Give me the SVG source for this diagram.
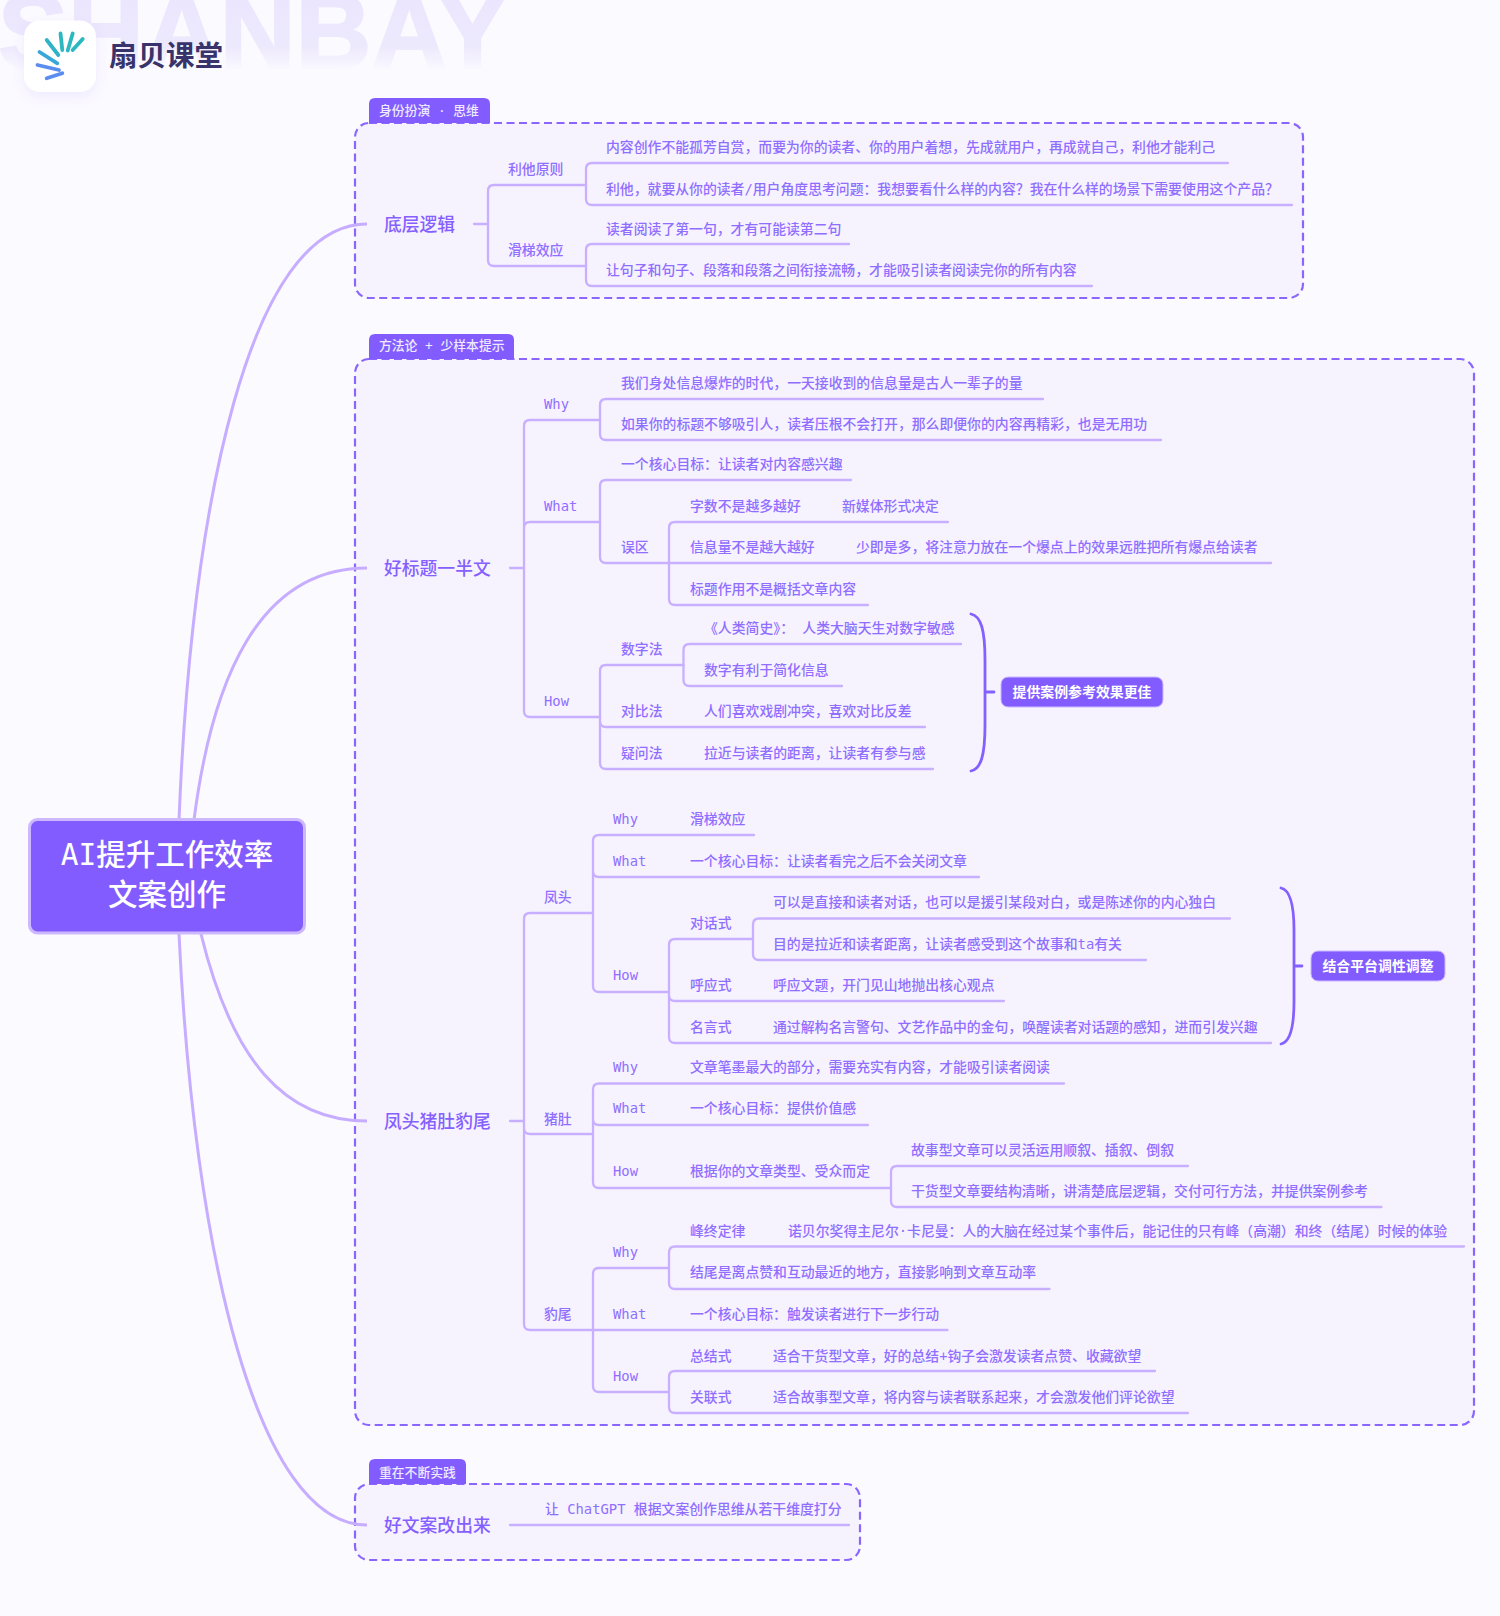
<svg xmlns="http://www.w3.org/2000/svg" width="1500" height="1616" viewBox="0 0 1500 1616">
<style>
text{font-family:"DejaVu Sans Mono","Noto Sans CJK SC",monospace}
.t{font-size:13.85px;font-weight:500;fill:#906eff}
.p{font-size:17.8px;font-weight:500;fill:#8560ff}
.g{font-size:12.8px;font-weight:500;fill:#efeaff}
.n{font-size:13.9px;font-weight:700;fill:#fff;text-anchor:middle}
.l{fill:none;stroke:#c9afff;stroke-width:2.3;stroke-linecap:round}
.b{fill:none;stroke:#8461ff;stroke-width:2.8;stroke-linecap:round}
.c{fill:none;stroke:#c7adff;stroke-width:3}
.box{fill:#f6f3ff;stroke:#8a66ff;stroke-width:2.2;stroke-dasharray:8 4.5}
.tag{fill:#825cff}
.sum{fill:#825cff;stroke:#cdb8ff;stroke-width:1}
.r{fill:none;stroke-width:3.8;stroke-linecap:round}
</style>
<defs>
<linearGradient id="wm" gradientUnits="userSpaceOnUse" x1="0" y1="0" x2="0" y2="72"><stop offset="0" stop-color="#ebe6fd"/><stop offset=".65" stop-color="#ede9fd"/><stop offset="1" stop-color="#fbfaff"/></linearGradient>
<filter id="sh" x="-30%" y="-30%" width="160%" height="160%"><feDropShadow dx="0" dy="5" stdDeviation="6" flood-color="#8560ff" flood-opacity=".1"/></filter>
</defs>
<rect width="1500" height="1616" fill="#fbfaff"/>
<g id="brand">
<text x="-2" y="68" font-size="105" font-weight="700" style="font-family:'Liberation Sans',sans-serif" fill="url(#wm)" stroke="url(#wm)" stroke-width="2">SHANBAY</text>
<rect x="24" y="20.500" width="72" height="71.500" rx="16" fill="#fff" filter="url(#sh)"/>
<path class="r" stroke="#2bb8c0" d="M60.500 33.500L62.300 50M72.700 33.500L67.700 50.500M82.700 39L72.700 50"/>
<path class="r" stroke="#2fb3c8" d="M46.700 40L58.300 55"/>
<path class="r" stroke="#3ba7d8" d="M39.500 52L57.300 63.300"/>
<path class="r" stroke="#5b8cf0" d="M37.500 65L59 70M46.700 78.300L62.300 73.300"/>
<text x="109" y="66" font-size="28.500" font-weight="700" fill="#38336b">扇贝课堂</text>
</g>
<g id="frames">
<rect class="box" x="355" y="123" width="948" height="175" rx="14"/>
<path class="tag" d="M369 123V104Q369 98 375 98H484Q490 98 490 104V123Z"/>
<rect class="box" x="355" y="359" width="1119" height="1066" rx="14"/>
<path class="tag" d="M369 359V340Q369 334 375 334H508Q514 334 514 340V359Z"/>
<rect class="box" x="355" y="1484" width="505" height="76" rx="14"/>
<path class="tag" d="M369 1484V1465Q369 1459 375 1459H460Q466 1459 466 1465V1484Z"/>
</g>
<g id="connectors">
<path class="c" d="M179 820C192 500 250 224 367 224"/>
<path class="c" d="M194 820C212 680 258 568 367 568"/>
<path class="c" d="M201 934C232 1060 284 1121 367 1121"/>
<path class="c" d="M179 934C194 1250 256 1525 367 1525"/>
<path class="l" d="M474 224H488M586 185H494Q488 185 488 191V260Q488 266 494 266H586"/>
<path class="l" d="M1228 163H592Q586 163 586 169V199Q586 205 592 205H1292"/>
<path class="l" d="M849 244H592Q586 244 586 250V280Q586 286 592 286H1092"/>
<path class="l" d="M510 568H524M600 420H530Q524 420 524 426V711Q524 717 530 717H600M524 528Q524 522 530 522H600"/>
<path class="l" d="M1043 399H606Q600 399 600 405V434Q600 440 606 440H1161"/>
<path class="l" d="M851 480H606Q600 480 600 486V557Q600 563 606 563H1271"/>
<path class="l" d="M948 522H675Q669 522 669 528V599Q669 605 675 605H868"/>
<path class="l" d="M683.500 665H606Q600 665 600 671V763Q600 769 606 769H933M600 721Q600 727 606 727H925"/>
<path class="l" d="M961 644H689.500Q683.500 644 683.500 650V680Q683.500 686 689.500 686H842"/>
<path class="b" d="M971 614C981 616 985 630 985 660V725C985 755 981 769 971 771M985 692H994"/>
<path class="l" d="M510 1121H524M593 913H530Q524 913 524 919V1324Q524 1330 530 1330H947.500M524 1128Q524 1134 530 1134H593"/>
<path class="l" d="M754 835H599Q593 835 593 841V986Q593 992 599 992H669M593 871Q593 877 599 877H979"/>
<path class="l" d="M753 939H675Q669 939 669 945V1037Q669 1043 675 1043H1271M669 995Q669 1001 675 1001H1004"/>
<path class="l" d="M1230 918.500H759Q753 918.500 753 924.500V954Q753 960 759 960H1146"/>
<path class="b" d="M1281 888C1290 890 1294 904 1294 930V1002C1294 1028 1290 1042 1281 1044M1294 966H1302"/>
<path class="l" d="M1064 1083.500H599Q593 1083.500 593 1089.500V1182Q593 1188 599 1188H891M593 1119Q593 1125 599 1125H868"/>
<path class="l" d="M1188 1166H897Q891 1166 891 1172V1201Q891 1207 897 1207H1381.500"/>
<path class="l" d="M669 1268H599Q593 1268 593 1274V1386Q593 1392 599 1392H669"/>
<path class="l" d="M1464 1246.500H675Q669 1246.500 669 1252.500V1283Q669 1289 675 1289H1049.500"/>
<path class="l" d="M1155 1371H675Q669 1371 669 1377V1407Q669 1413 675 1413H1188"/>
<path class="l" d="M510 1525H849"/>
</g>
<g id="root">
<rect x="29.500" y="819.500" width="275" height="113.500" rx="8" fill="#825cff" stroke="#cdb8ff" stroke-width="3"/>
<text x="167" y="865" font-size="29.500" font-weight="500" fill="#fff" text-anchor="middle">AI提升工作效率</text>
<text x="167" y="905" font-size="29.500" font-weight="500" fill="#fff" text-anchor="middle">文案创作</text>
</g>
<g id="tag1"><text class="g" x="379" y="115">身份扮演 · 思维</text></g>
<g id="tag2"><text class="g" x="379" y="350">方法论 + 少样本提示</text></g>
<g id="tag3"><text class="g" x="379" y="1477">重在不断实践</text></g>
<g id="topic1"><text class="p" x="384" y="231">底层逻辑</text></g>
<g id="topic2"><text class="p" x="384" y="575">好标题一半文</text></g>
<g id="topic3"><text class="p" x="384" y="1128">凤头猪肚豹尾</text></g>
<g id="topic4"><text class="p" x="384" y="1531.500">好文案改出来</text></g>
<g id="logic">
<text class="t" x="508" y="173.500">利他原则</text>
<text class="t" x="606" y="152">内容创作不能孤芳自赏，而要为你的读者、你的用户着想，先成就用户，再成就自己，利他才能利己</text>
<text class="t" x="606" y="194">利他，就要从你的读者/用户角度思考问题：我想要看什么样的内容？我在什么样的场景下需要使用这个产品？</text>
<text class="t" x="508" y="255">滑梯效应</text>
<text class="t" x="606" y="233.500">读者阅读了第一句，才有可能读第二句</text>
<text class="t" x="606" y="275">让句子和句子、段落和段落之间衔接流畅，才能吸引读者阅读完你的所有内容</text>
</g>
<g id="title">
<text class="t" x="544" y="409">Why</text>
<text class="t" x="621" y="387.500">我们身处信息爆炸的时代，一天接收到的信息量是古人一辈子的量</text>
<text class="t" x="621" y="429">如果你的标题不够吸引人，读者压根不会打开，那么即便你的内容再精彩，也是无用功</text>
<text class="t" x="544" y="511">What</text>
<text class="t" x="621" y="469">一个核心目标：让读者对内容感兴趣</text>
<text class="t" x="621" y="551.500">误区</text>
<text class="t" x="690" y="510.500">字数不是越多越好</text>
<text class="t" x="842" y="510.500">新媒体形式决定</text>
<text class="t" x="690" y="551.500">信息量不是越大越好</text>
<text class="t" x="856" y="551.500">少即是多，将注意力放在一个爆点上的效果远胜把所有爆点给读者</text>
<text class="t" x="690" y="593.500">标题作用不是概括文章内容</text>
<text class="t" x="544" y="706">How</text>
<text class="t" x="621" y="654">数字法</text>
<text class="t" x="704" y="633">《人类简史》： 人类大脑天生对数字敏感</text>
<text class="t" x="704" y="674.500">数字有利于简化信息</text>
<text class="t" x="621" y="715.500">对比法</text>
<text class="t" x="704" y="715.500">人们喜欢戏剧冲突，喜欢对比反差</text>
<text class="t" x="621" y="757.500">疑问法</text>
<text class="t" x="704" y="757.500">拉近与读者的距离，让读者有参与感</text>
</g>
<g id="summary1"><rect class="sum" x="1001" y="677" width="162" height="30" rx="7"/><text class="n" x="1082" y="697">提供案例参考效果更佳</text></g>
<g id="head">
<text class="t" x="544" y="902">凤头</text>
<text class="t" x="613" y="824">Why</text>
<text class="t" x="690" y="824">滑梯效应</text>
<text class="t" x="613" y="866">What</text>
<text class="t" x="690" y="866">一个核心目标：让读者看完之后不会关闭文章</text>
<text class="t" x="613" y="980">How</text>
<text class="t" x="690" y="928">对话式</text>
<text class="t" x="773" y="907">可以是直接和读者对话，也可以是援引某段对白，或是陈述你的内心独白</text>
<text class="t" x="773" y="949">目的是拉近和读者距离，让读者感受到这个故事和ta有关</text>
<text class="t" x="690" y="989.500">呼应式</text>
<text class="t" x="773" y="989.500">呼应文题，开门见山地抛出核心观点</text>
<text class="t" x="690" y="1032">名言式</text>
<text class="t" x="773" y="1032">通过解构名言警句、文艺作品中的金句，唤醒读者对话题的感知，进而引发兴趣</text>
</g>
<g id="summary2"><rect class="sum" x="1311" y="951" width="134" height="30" rx="7"/><text class="n" x="1378" y="971">结合平台调性调整</text></g>
<g id="belly">
<text class="t" x="544" y="1123.500">猪肚</text>
<text class="t" x="613" y="1071.500">Why</text>
<text class="t" x="690" y="1071.500">文章笔墨最大的部分，需要充实有内容，才能吸引读者阅读</text>
<text class="t" x="613" y="1113">What</text>
<text class="t" x="690" y="1113">一个核心目标：提供价值感</text>
<text class="t" x="613" y="1176">How</text>
<text class="t" x="690" y="1176">根据你的文章类型、受众而定</text>
<text class="t" x="911" y="1154.500">故事型文章可以灵活运用顺叙、插叙、倒叙</text>
<text class="t" x="911" y="1196">干货型文章要结构清晰，讲清楚底层逻辑，交付可行方法，并提供案例参考</text>
</g>
<g id="tail">
<text class="t" x="544" y="1319">豹尾</text>
<text class="t" x="613" y="1256.500">Why</text>
<text class="t" x="690" y="1235.500">峰终定律</text>
<text class="t" x="788" y="1235.500">诺贝尔奖得主尼尔·卡尼曼：人的大脑在经过某个事件后，能记住的只有峰（高潮）和终（结尾）时候的体验</text>
<text class="t" x="690" y="1277">结尾是离点赞和互动最近的地方，直接影响到文章互动率</text>
<text class="t" x="613" y="1318.500">What</text>
<text class="t" x="690" y="1318.500">一个核心目标：触发读者进行下一步行动</text>
<text class="t" x="613" y="1381">How</text>
<text class="t" x="690" y="1360.500">总结式</text>
<text class="t" x="773" y="1360.500">适合干货型文章，好的总结+钩子会激发读者点赞、收藏欲望</text>
<text class="t" x="690" y="1401.500">关联式</text>
<text class="t" x="773" y="1401.500">适合故事型文章，将内容与读者联系起来，才会激发他们评论欲望</text>
</g>
<g id="practice"><text class="t" x="545" y="1514">让 ChatGPT 根据文案创作思维从若干维度打分</text></g>
</svg>
